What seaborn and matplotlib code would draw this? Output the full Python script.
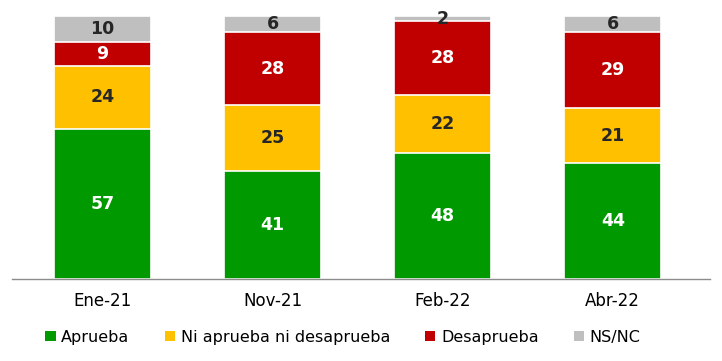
import numpy as np
import pandas as pd
import matplotlib.pyplot as plt
import seaborn as sns
from matplotlib.patches import Patch

periods = ["Ene-21", "Nov-21", "Feb-22", "Abr-22"]
series = ["Aprueba", "Ni aprueba ni desaprueba", "Desaprueba", "NS/NC"]
aprueba = [57, 41, 48, 44]
ni_ni = [24, 25, 22, 21]
desaprueba = [9, 28, 28, 29]
nsnc = [10, 6, 2, 6]

colors = ["#009900", "#FFC000", "#C00000", "#BFBFBF"]
text_colors = ["white", "#262626", "white", "#262626"]

values = [aprueba, ni_ni, desaprueba, nsnc]
df = pd.DataFrame({"period": periods})
for name, vals in zip(series, values):
    df[name] = vals
cum = df[series].cumsum(axis=1)

sns.set_style("white")
plt.rcParams["font.family"] = ["DejaVu Sans"]

fig = plt.figure(figsize=(7.22, 3.61), dpi=100)
ax = fig.add_axes([0.017, 0.227, 0.966, 0.729])

# draw cumulative totals from the top layer down so the bars look stacked
for i in range(len(series) - 1, -1, -1):
    sns.barplot(x="period", y=cum[series[i]], data=df.assign(**{series[i]: cum[series[i]]}),
                color=colors[i], width=0.57, edgecolor="white", linewidth=1.2,
                saturation=1, ax=ax)

# segment labels
for j in range(len(periods)):
    bottom = 0
    for i, name in enumerate(series):
        v = df.loc[j, name]
        ax.text(j, bottom + v / 2, str(v), ha="center", va="center",
                fontsize=12.5, fontweight="bold", color=text_colors[i])
        bottom += v

ax.set_ylim(0, 100)
ax.set_xlim(-0.53, 3.57)
ax.set_xlabel("")
ax.set_ylabel("")
ax.set_yticks([])
ax.tick_params(axis="x", length=0, pad=9, labelsize=12)
for lab in ax.get_xticklabels():
    lab.set_color("black")
for s in ["top", "right", "left"]:
    ax.spines[s].set_visible(False)
ax.spines["bottom"].set_color("#8C8C8C")
ax.spines["bottom"].set_linewidth(1)

handles = [Patch(facecolor=c, edgecolor="none", label=n) for c, n in zip(colors, series)]
fig.legend(handles=handles, loc="center", bbox_to_anchor=(0.475, 0.066), ncol=4,
           frameon=False, fontsize=11.5, handlelength=0.65, handleheight=0.65,
           handletextpad=0.35, columnspacing=2.2, labelcolor="black")

fig.savefig("out.png", dpi=100)
